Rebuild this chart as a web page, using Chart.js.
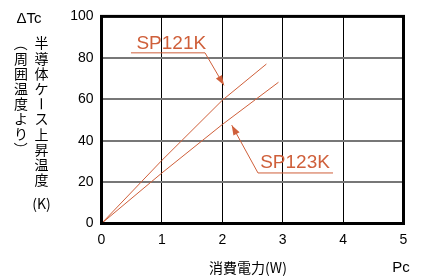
<!DOCTYPE html>
<html>
<head>
<meta charset="utf-8">
<script src="https://cdn.jsdelivr.net/npm/chart.js@4"></script>
<style>
  html, body { margin: 0; padding: 0; background: #fff; }
  #wrap { width: 429px; height: 279px; position: relative; }
</style>
</head>
<body>
<div id="wrap"><canvas id="chart"></canvas></div>
<script>
// datos
const xTicks = [0, 1, 2, 3, 4, 5];
const yTicks = [0, 20, 40, 60, 80, 100];
const sp121kX = [0, 1, 2, 2.73];
const sp121kY = [0, 30.5, 59.5, 77];
const sp123kX = [0, 1, 2, 2.93];
const sp123kY = [0, 24.4, 47.8, 68.2];

const ORANGE = '#cf5f3a';
const LATIN = '"Liberation Sans", Arial, sans-serif';
const CJK = '"Noto Sans CJK JP", sans-serif';

function toPoints(xs, ys) {
    return xs.map((x, i) => ({ x: x, y: ys[i] }));
}

// anotaciones: etiqueta, subrayado y flecha (en coordenadas de datos)
const notes = [
    { text: 'SP121K', cx: 1.155, cy: 86.8, u0: 0.488, u1: 1.714, uy: 82.4, from: 1.714, tipX: 2.028, tipY: 66.7 },
    { text: 'SP123K', cx: 3.204, cy: 29.3, u0: 2.591, u1: 3.833, uy: 24.4, from: 2.591, tipX: 2.156, tipY: 47.5 }
];

const framePlugin = {
    id: 'frame',
    afterDraw(chart) {
        const { ctx, chartArea: a, scales } = chart;
        const sx = scales.x, sy = scales.y;
        ctx.save();

        // marco grueso
        ctx.strokeStyle = '#000';
        ctx.lineWidth = 3;
        ctx.strokeRect(a.left, a.top, a.right - a.left, a.bottom - a.top);

        // notas de series
        notes.forEach(n => {
            ctx.fillStyle = ORANGE;
            ctx.font = '19px ' + LATIN;
            ctx.textAlign = 'center';
            ctx.textBaseline = 'middle';
            ctx.fillText(n.text, sx.getPixelForValue(n.cx), sy.getPixelForValue(n.cy));

            const ux0 = sx.getPixelForValue(n.u0), ux1 = sx.getPixelForValue(n.u1);
            const uy = sy.getPixelForValue(n.uy);
            const fx = sx.getPixelForValue(n.from);
            const tx = sx.getPixelForValue(n.tipX), ty = sy.getPixelForValue(n.tipY);

            ctx.strokeStyle = ORANGE;
            ctx.lineWidth = 1;
            ctx.beginPath();
            ctx.moveTo(ux0, uy);
            ctx.lineTo(ux1, uy);
            ctx.moveTo(fx, uy);
            ctx.lineTo(tx, ty);
            ctx.stroke();

            // punta de flecha
            const ang = Math.atan2(ty - uy, tx - fx);
            const len = 10, half = 3.5;
            ctx.beginPath();
            ctx.moveTo(tx, ty);
            ctx.lineTo(tx - len * Math.cos(ang) + half * Math.sin(ang), ty - len * Math.sin(ang) - half * Math.cos(ang));
            ctx.lineTo(tx - len * Math.cos(ang) - half * Math.sin(ang), ty - len * Math.sin(ang) + half * Math.cos(ang));
            ctx.closePath();
            ctx.fill();
        });

        // títulos de ejes
        ctx.fillStyle = '#000';
        ctx.textBaseline = 'middle';
        ctx.textAlign = 'center';
        ctx.font = '15px ' + LATIN;
        ctx.fillText('\u0394Tc', 29, 19);
        ctx.font = '14px ' + CJK;
        ctx.fillText('消費電力(W)', 248, 268);
        ctx.font = '15px ' + LATIN;
        ctx.fillText('Pc', 401, 268);

        // texto vertical
        ctx.font = '14px ' + CJK;
        const right = ['半', '導', '体', 'ケ', 'ー', 'ス', '上', '昇', '温', '度'];
        right.forEach((ch, i) => drawVChar(ctx, ch, 41.5, 43 + i * 15.2));
        ctx.fillText('(K)', 41.5, 204);

        const left = ['（', '周', '囲', '温', '度', 'よ', 'り', '）'];
        const leftY = [44, 59, 74, 89, 104, 119, 134, 149];
        left.forEach((ch, i) => drawVChar(ctx, ch, 21, leftY[i]));

        ctx.restore();
    }
};

// caracteres que giran en escritura vertical
function drawVChar(ctx, ch, x, y) {
    if (ch === 'ー' || ch === '（' || ch === '）') {
        ctx.save();
        ctx.translate(x, y);
        ctx.rotate(Math.PI / 2);
        ctx.fillText(ch, 0, 0);
        ctx.restore();
    } else {
        ctx.fillText(ch, x, y);
    }
}

const tickFont = { family: 'Liberation Sans', size: 14 };

new Chart(document.getElementById('chart'), {
    type: 'scatter',
    data: {
        datasets: [
            {
                label: 'SP121K',
                data: toPoints(sp121kX, sp121kY),
                showLine: true,
                borderColor: ORANGE,
                borderWidth: 1,
                pointRadius: 0,
                tension: 0
            },
            {
                label: 'SP123K',
                data: toPoints(sp123kX, sp123kY),
                showLine: true,
                borderColor: ORANGE,
                borderWidth: 1,
                pointRadius: 0,
                tension: 0
            }
        ]
    },
    options: {
        responsive: true,
        maintainAspectRatio: false,
        animation: false,
        layout: { padding: { top: 15, right: 25.5, left: 0, bottom: 0 } },
        plugins: {
            legend: { display: false },
            tooltip: { enabled: false }
        },
        scales: {
            x: {
                type: 'linear',
                min: 0,
                max: 5,
                afterBuildTicks: s => { s.ticks = xTicks.map(v => ({ value: v })); },
                afterFit: s => { s.height = 55.5; },
                border: { display: false },
                grid: { color: '#000', lineWidth: 1, drawTicks: false },
                ticks: { color: '#000', font: tickFont, padding: 8 }
            },
            y: {
                type: 'linear',
                min: 0,
                max: 100,
                afterBuildTicks: s => { s.ticks = yTicks.map(v => ({ value: v })); },
                afterFit: s => { s.width = 101.5; },
                border: { display: false },
                grid: { color: '#777', lineWidth: 2, drawTicks: false },
                ticks: { color: '#000', font: tickFont, padding: 8 }
            }
        }
    },
    plugins: [framePlugin]
});
</script>
</body>
</html>
